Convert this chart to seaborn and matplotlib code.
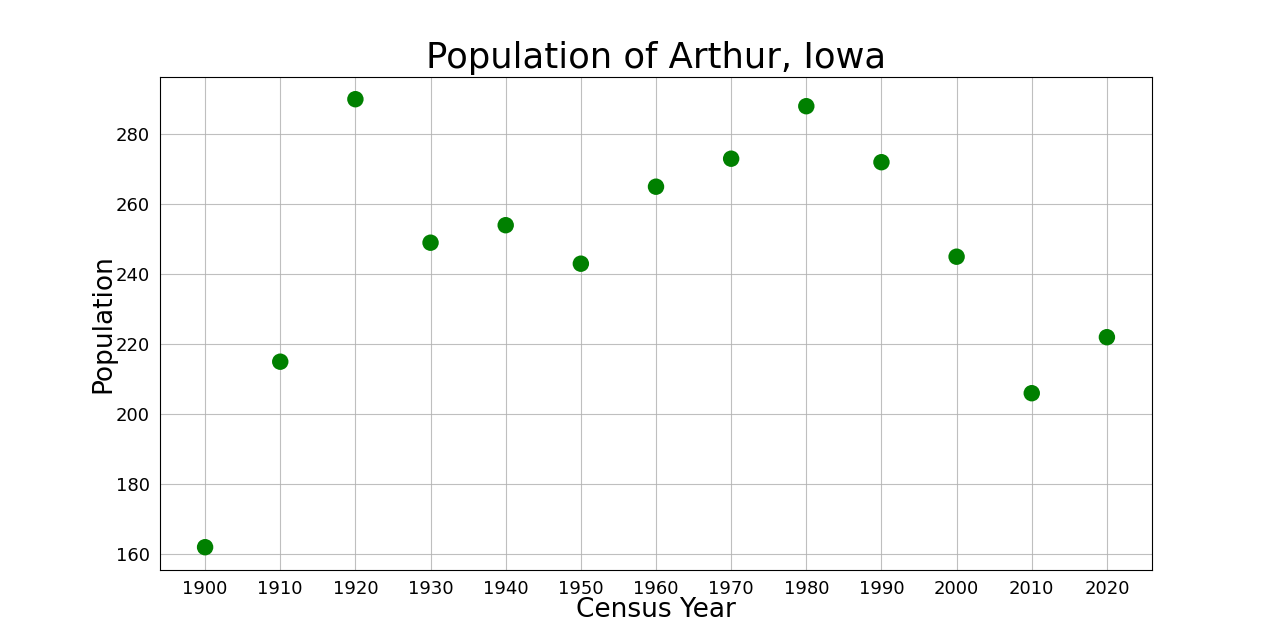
import pandas as pd
import seaborn as sns
import matplotlib.pyplot as plt

years = [1900, 1910, 1920, 1930, 1940, 1950, 1960, 1970, 1980, 1990, 2000, 2010, 2020]
population = [162, 215, 290, 249, 254, 243, 265, 273, 288, 272, 245, 206, 222]

df = pd.DataFrame({"year": years, "population": population})

sns.set_style("white")
plt.rcParams['font.family'] = ['DejaVu Sans']
plt.rcParams['text.color'] = 'black'
plt.rcParams['axes.labelcolor'] = 'black'
plt.rcParams['xtick.color'] = 'black'
plt.rcParams['ytick.color'] = 'black'

fig, ax = plt.subplots(figsize=(12.8, 6.4), dpi=100)
sns.scatterplot(data=df, x="year", y="population", ax=ax,
                color="green", s=140, edgecolor="none", zorder=3)

ax.set_title("Population of Arthur, Iowa", fontsize=25.5, color='black')
ax.set_xlabel("Census Year", fontsize=19, labelpad=-1)
ax.set_ylabel("Population", fontsize=19, labelpad=-1)
ax.set_xticks(years)
ax.tick_params(axis='both', labelsize=13, length=4)
ax.grid(True, color='#b0b0b0', linewidth=0.8, alpha=0.8)
ax.set_axisbelow(True)
for s in ax.spines.values():
    s.set_color('black')
    s.set_linewidth(0.8)

plt.savefig("out.png", dpi=100)
